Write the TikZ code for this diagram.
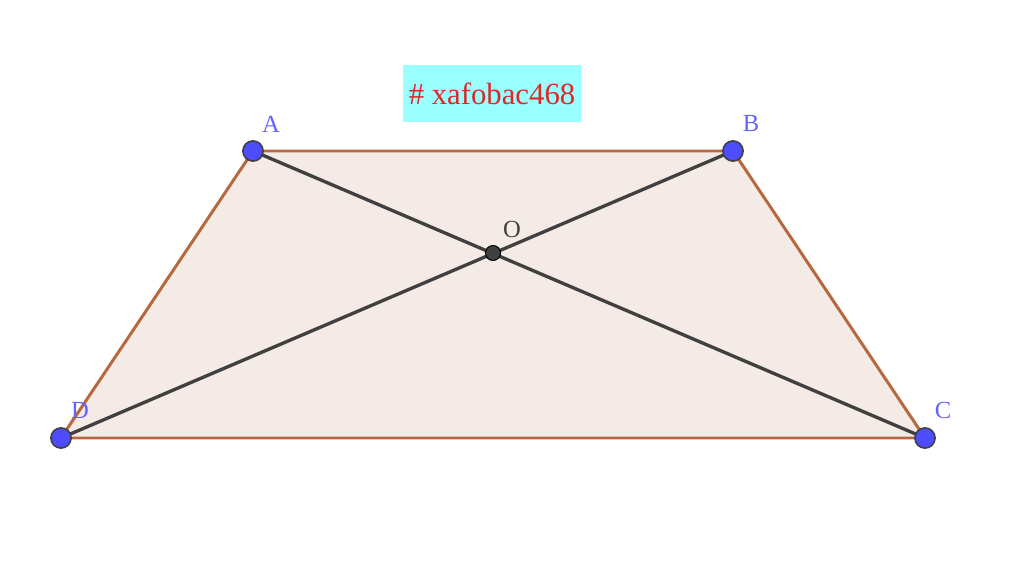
\documentclass[tikz,border=0pt]{standalone}
\usepackage{fontspec}
\setmainfont{Liberation Serif}
\usepackage{tikz}
\usetikzlibrary{positioning}
\definecolor{latobordo}{RGB}{184,104,62}
\definecolor{riempimento}{RGB}{244,234,230}
\definecolor{diagonale}{RGB}{64,64,64}
\definecolor{punto}{RGB}{77,77,255}
\definecolor{etichetta}{RGB}{99,99,255}
\definecolor{ciano}{RGB}{153,255,255}
\definecolor{rosso}{RGB}{220,40,40}
\tikzset{
    vertice/.style = {circle, fill = punto, draw = black!75, line width = 0.9pt, inner sep = 0pt, minimum size = 11.5pt},
    centro/.style = {circle, fill = diagonale, draw = black, line width = 0.6pt, inner sep = 0pt, minimum size = 8.5pt},
    nomepunto/.style = {text = etichetta, font = \fontsize{14}{16}\selectfont, inner sep = 0pt}
}
\begin{document}
\begin{tikzpicture}[x = 0.02cm, y = -0.02cm]
    % Margini
    \useasboundingbox (0,0) rectangle (1024,574);
    % Vertici
    \coordinate (A) at (253,151);
    \coordinate (B) at (733,151);
    \coordinate (C) at (925,438);
    \coordinate (D) at (61,438);
    \coordinate (O) at (493,253);
    % Trapezio
    \fill[riempimento] (A) -- (B) -- (C) -- (D) -- cycle;
    \draw[latobordo, line width = 1.7pt] (A) -- (B) -- (C) -- (D) -- cycle;
    % Diagonali
    \draw[diagonale, line width = 1.9pt] (A) -- (C);
    \draw[diagonale, line width = 1.9pt] (B) -- (D);
    % Punti
    \foreach \p in {A, B, C, D}{
        \node[vertice] (p\p) at (\p){};
    }
    \node[centro] (pO) at (O){};
    % Etichette
    \node[nomepunto] (lA) at (271,124){A};
    \node[nomepunto] (lB) at (751,123){B};
    \node[nomepunto] (lC) at (943,410){C};
    \node[nomepunto] (lD) at (80,410){D};
    \node[nomepunto, text = diagonale] (lO) at (512,229){O};
    % Titolo
    \node[fill = ciano, text = rosso, inner sep = 0pt, minimum width = 178*0.02cm, minimum height = 57*0.02cm,
          font = \fontsize{17.5}{19}\selectfont] (titolo) at (492,93.5){\# xafobac468};
\end{tikzpicture}
\end{document}
